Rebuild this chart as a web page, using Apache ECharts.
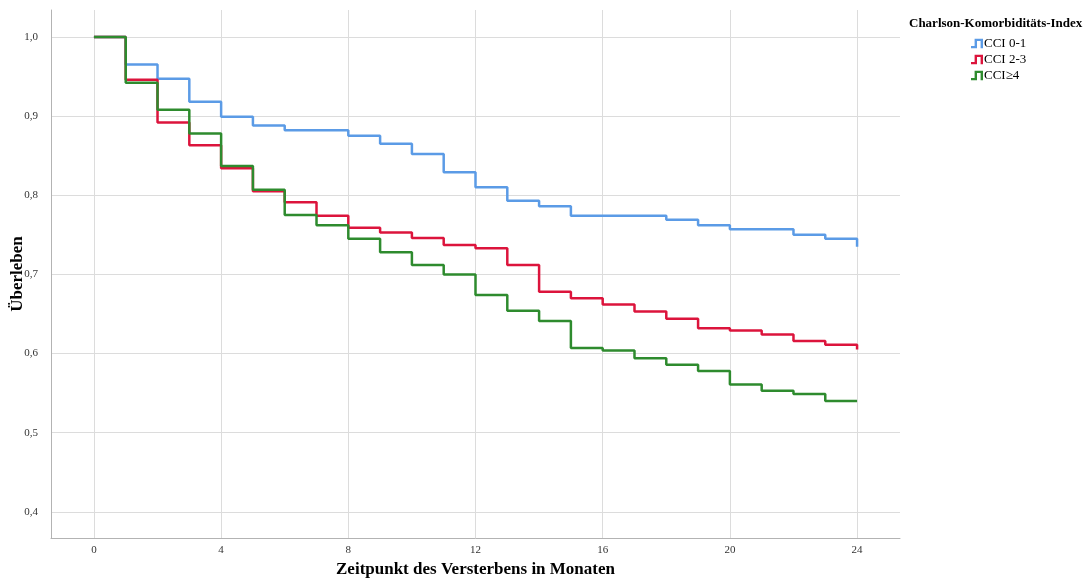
<!DOCTYPE html>
<html>
<head>
<meta charset="utf-8">
<script src="https://cdn.jsdelivr.net/npm/echarts@6/dist/echarts.min.js"></script>
<style>
  html, body { margin: 0; padding: 0; background: #fff; }
  #chart { width: 1090px; height: 579px; }
</style>
</head>
<body>
<div id="chart"></div>
<script>
// Kaplan-Meier steps (month, survival after that month)
var blueTimes = [0, 1, 2, 3, 4, 5, 6, 8, 9, 10, 11, 12, 13, 14, 15, 18, 19, 20, 22, 23, 24];
var blueValues = [1, 0.965, 0.947, 0.918, 0.899, 0.888, 0.882, 0.875, 0.865, 0.852, 0.829, 0.810, 0.793, 0.786, 0.774, 0.769, 0.762, 0.757, 0.750, 0.745, 0.735];

var redTimes = [0, 1, 2, 3, 4, 5, 6, 7, 8, 9, 10, 11, 12, 13, 14, 15, 16, 17, 18, 19, 20, 21, 22, 23, 24];
var redValues = [1, 0.946, 0.892, 0.863, 0.834, 0.805, 0.791, 0.774, 0.759, 0.753, 0.746, 0.737, 0.733, 0.712, 0.678, 0.670, 0.662, 0.653, 0.644, 0.632, 0.629, 0.624, 0.616, 0.611, 0.605];

var greenTimes = [0, 1, 2, 3, 4, 5, 6, 7, 8, 9, 10, 11, 12, 13, 14, 15, 16, 17, 18, 19, 20, 21, 22, 23, 24];
var greenValues = [1, 0.942, 0.908, 0.878, 0.837, 0.807, 0.775, 0.762, 0.745, 0.728, 0.712, 0.700, 0.674, 0.654, 0.641, 0.607, 0.604, 0.594, 0.586, 0.578, 0.561, 0.553, 0.549, 0.540, 0.540];

var groupNames = ["CCI 0-1", "CCI 2-3", "CCI\u22654"];
var groupColors = ["#5b9be6", "#dc143c", "#2e8b2e"];
var xTicks = [0, 4, 8, 12, 16, 20, 24];
var yTicks = [0.4, 0.5, 0.6, 0.7, 0.8, 0.9, 1.0];

function pairs(times, values) {
  return times.map(function (t, i) { return [t, values[i]]; });
}

var serif = "Liberation Serif";
var stepIcon = "path://M0,6 L3,6 L3,0 L10,0 L10,8 L8,8 L8,2 L5,2 L5,8 L0,8 Z";

var chart = echarts.init(document.getElementById("chart"));
chart.setOption({
  animation: false,
  backgroundColor: "#fff",
  title: {
    text: "Charlson-Komorbiditäts-Index",
    left: 904,
    top: 12,
    textStyle: { fontFamily: serif, fontSize: 13, fontWeight: "bold", color: "#000" }
  },
  legend: {
    orient: "vertical",
    left: 966,
    top: 32,
    itemGap: 3,
    itemWidth: 12,
    itemHeight: 10,
    icon: stepIcon,
    textStyle: { fontFamily: serif, fontSize: 13, color: "#000", padding: [0, 0, 0, -4] },
    data: groupNames
  },
  grid: { left: 51, right: 190, top: 10, bottom: 41, containLabel: false, outerBoundsMode: "none" },
  xAxis: {
    type: "value",
    min: -1.35,
    max: 25.35,
    name: "Zeitpunkt des Versterbens in Monaten",
    nameLocation: "middle",
    nameGap: 21,
    nameTextStyle: { fontFamily: serif, fontSize: 17, fontWeight: "bold", color: "#000" },
    axisLine: { onZero: false, lineStyle: { color: "#b3b3b3", width: 1 } },
    axisTick: { show: false, customValues: xTicks },
    axisLabel: { customValues: xTicks, fontFamily: serif, fontSize: 11, color: "#333", margin: 7 },
    splitLine: { show: true, customValues: xTicks, lineStyle: { color: "#dcdcdc", width: 1 } }
  },
  yAxis: {
    type: "value",
    min: 0.367,
    max: 1.034,
    name: "Überleben",
    nameLocation: "middle",
    nameGap: 25,
    nameMoveOverlap: false,
    nameTextStyle: { fontFamily: serif, fontSize: 17, fontWeight: "bold", color: "#000" },
    axisLine: { show: true, onZero: false, lineStyle: { color: "#b3b3b3", width: 1 } },
    axisTick: { show: false, customValues: yTicks },
    axisLabel: {
      customValues: yTicks,
      fontFamily: serif,
      fontSize: 11,
      color: "#333",
      margin: 13,
      formatter: function (v) { return v.toFixed(1).replace(".", ","); }
    },
    splitLine: { show: true, customValues: yTicks, lineStyle: { color: "#dcdcdc", width: 1 } }
  },
  series: [
    { name: groupNames[0], data: pairs(blueTimes, blueValues) },
    { name: groupNames[1], data: pairs(redTimes, redValues) },
    { name: groupNames[2], data: pairs(greenTimes, greenValues) }
  ].map(function (s, i) {
    return {
      name: s.name,
      type: "line",
      step: "end",
      showSymbol: false,
      symbol: "none",
      data: s.data,
      z: 3 + i,
      itemStyle: { color: groupColors[i] },
      lineStyle: { color: groupColors[i], width: 2.5 }
    };
  })
});
</script>
</body>
</html>
